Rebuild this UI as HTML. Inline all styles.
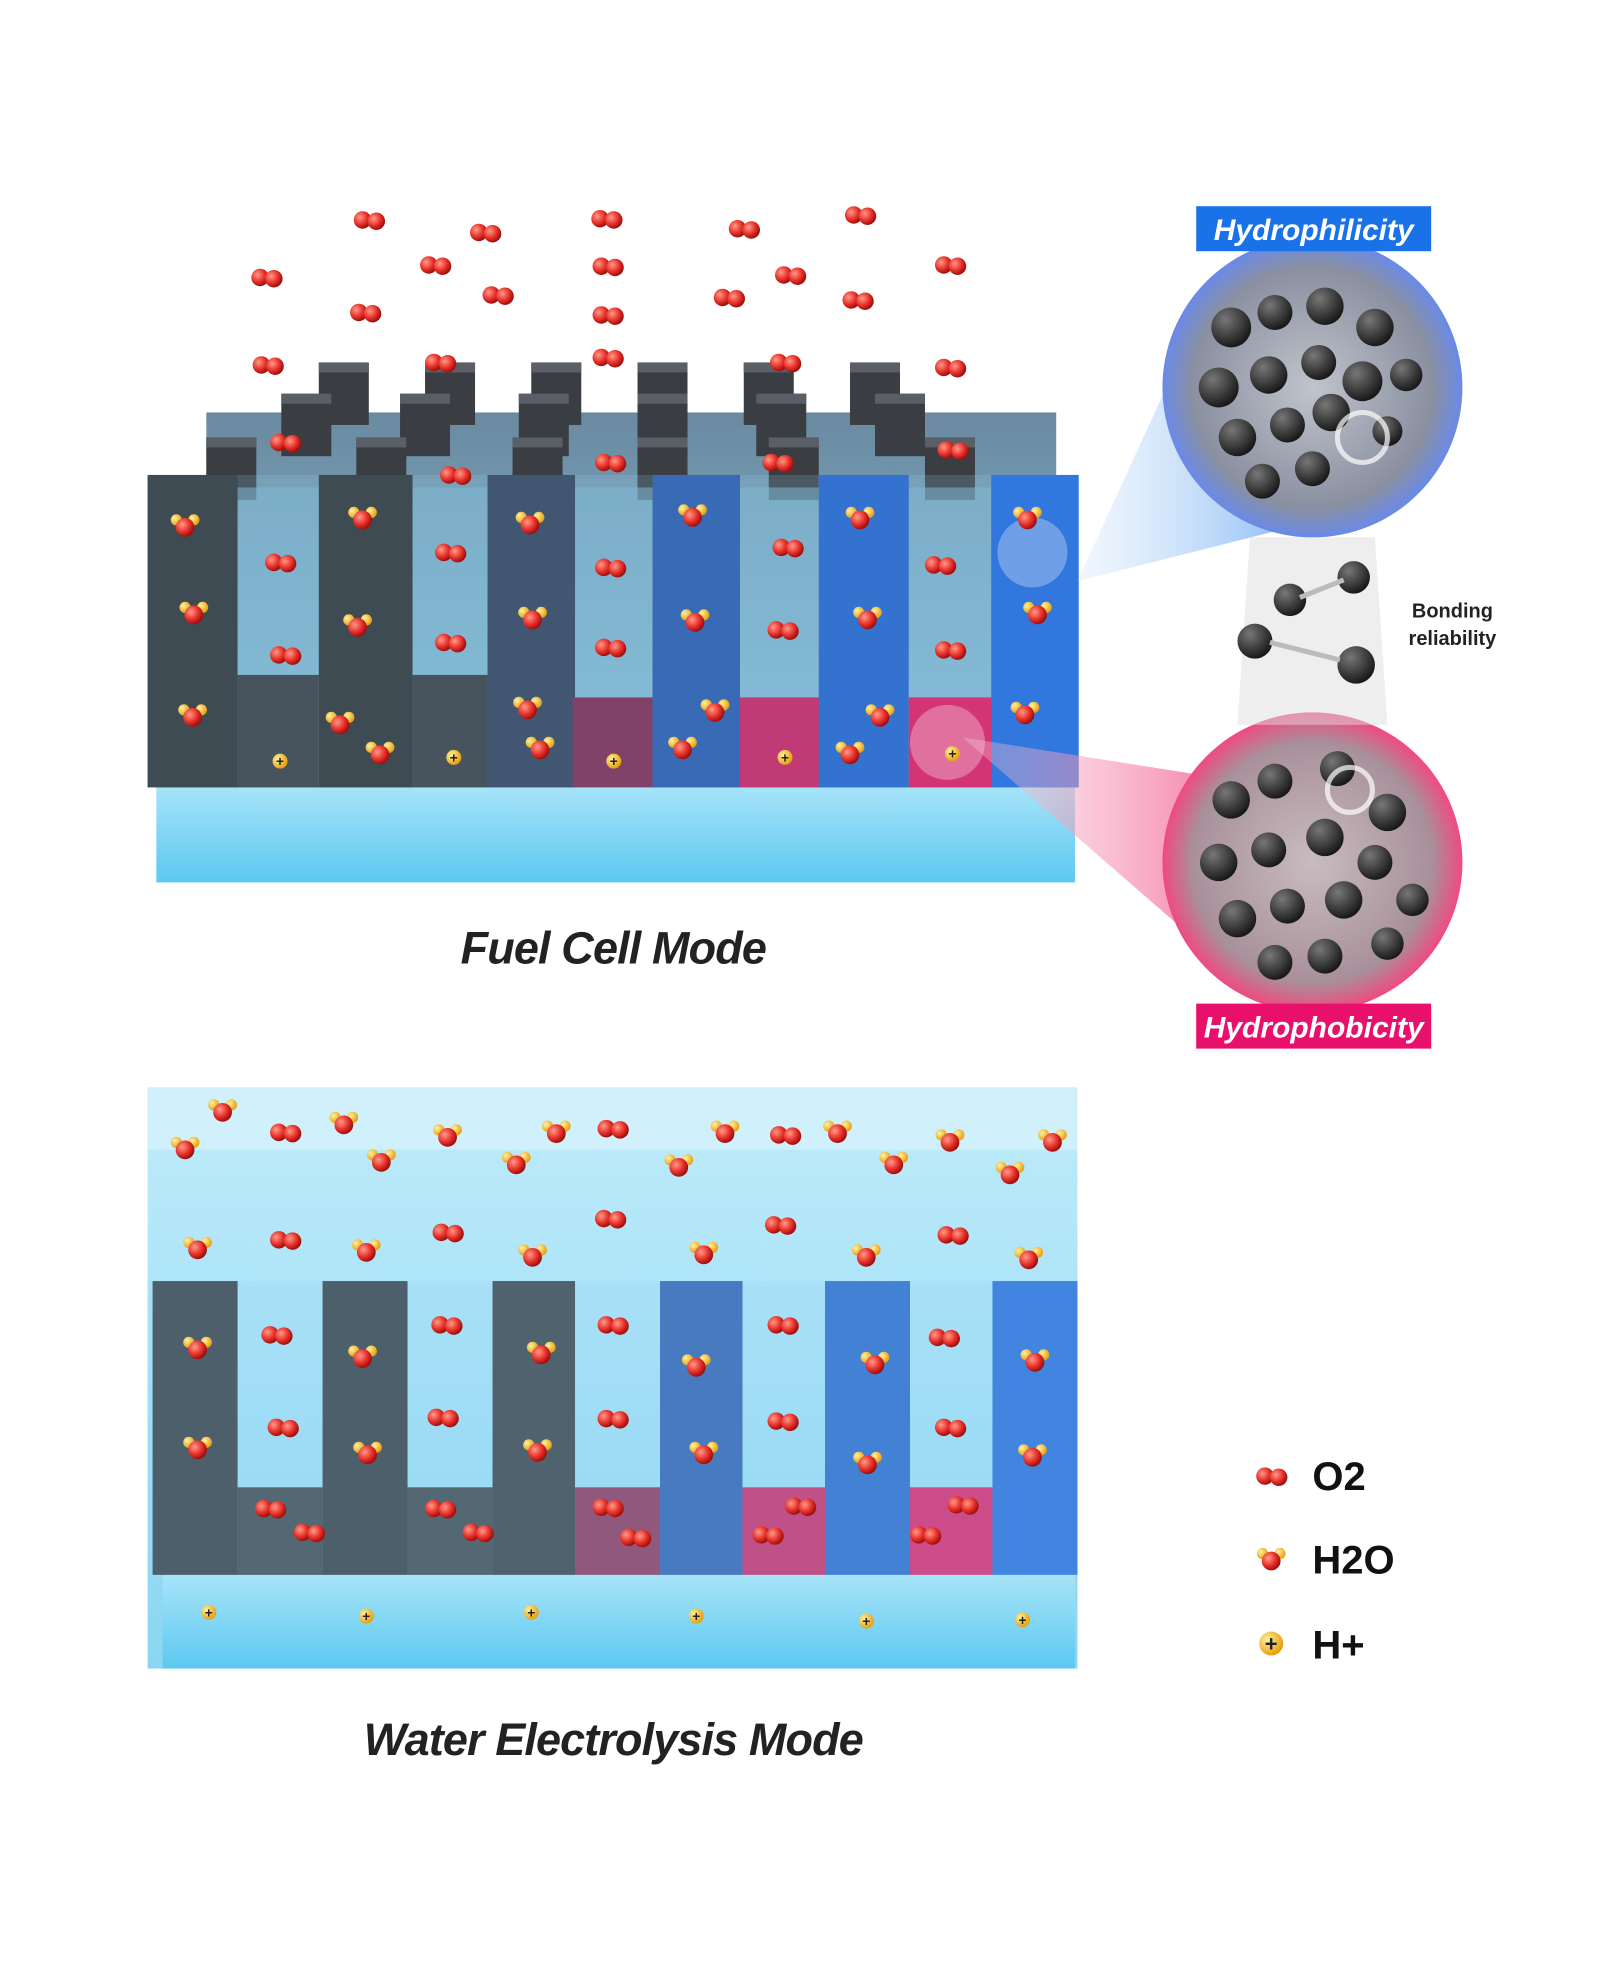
<!DOCTYPE html>
<html><head><meta charset="utf-8"><style>
html,body{margin:0;padding:0;background:#fff;}
svg{display:block;}
text{font-family:"Liberation Sans",sans-serif;}
</style></head><body>
<svg width="1600" height="1966" viewBox="0 0 1280 1573" xmlns="http://www.w3.org/2000/svg">
<defs>
<radialGradient id="red" cx="35%" cy="35%" r="65%"><stop offset="0" stop-color="#ff9a8a"/><stop offset=".6" stop-color="#e8322a"/><stop offset="1" stop-color="#a01010"/></radialGradient>
<radialGradient id="yel" cx="35%" cy="35%" r="65%"><stop offset="0" stop-color="#fff2a0"/><stop offset="1" stop-color="#e8a010"/></radialGradient>
<radialGradient id="ball" cx="35%" cy="30%" r="70%"><stop offset="0" stop-color="#777"/><stop offset="1" stop-color="#1a1a1a"/></radialGradient>
<radialGradient id="cb" cx="50%" cy="50%" r="50%"><stop offset="0" stop-color="#c0c4cc"/><stop offset=".8" stop-color="#8a90a0"/><stop offset="1" stop-color="#6a8ae8"/></radialGradient>
<radialGradient id="cp" cx="50%" cy="50%" r="50%"><stop offset="0" stop-color="#c8bcc0"/><stop offset=".8" stop-color="#a8909a"/><stop offset="1" stop-color="#f04a80"/></radialGradient>
<linearGradient id="base" x1="0" y1="0" x2="0" y2="1"><stop offset="0" stop-color="#a8e4f8"/><stop offset="1" stop-color="#5cc8f0"/></linearGradient>
<linearGradient id="water" x1="0" y1="0" x2="0" y2="1"><stop offset="0" stop-color="#c0ecfa"/><stop offset="1" stop-color="#8ad6f2"/></linearGradient>
<linearGradient id="gap" x1="0" y1="0" x2="0" y2="1"><stop offset="0" stop-color="#6a8aa0"/><stop offset="1" stop-color="#8cc4e0"/></linearGradient>
<linearGradient id="cone1" x1="1" y1="0" x2="0" y2="0"><stop offset="0" stop-color="#6aa8f0" stop-opacity=".8"/><stop offset="1" stop-color="#cfe4fb" stop-opacity=".3"/></linearGradient>
<linearGradient id="cone2" x1="1" y1="0" x2="0" y2="0"><stop offset="0" stop-color="#f04a80" stop-opacity=".8"/><stop offset="1" stop-color="#fbd0de" stop-opacity=".3"/></linearGradient>
<g id="o2"><circle cx="-5" cy="0" r="7" fill="url(#red)"/><circle cx="6" cy="1" r="7" fill="url(#red)"/></g>
<g id="h2o"><circle cx="-7" cy="-4" r="4.5" fill="url(#yel)"/><circle cx="7" cy="-4" r="4.5" fill="url(#yel)"/><circle cx="0" cy="2" r="7.5" fill="url(#red)"/></g>
<g id="hp"><circle r="6" fill="url(#yel)"/><text x="0" y="4" font-size="11" font-weight="bold" text-anchor="middle" fill="#222">+</text></g>
<g id="bk"><rect width="40" height="50" fill="#3a3d42"/><rect width="40" height="8" fill="#5a5e66"/></g>
</defs>

<!-- TOP DIAGRAM -->
<rect x="125" y="628" width="735" height="78" fill="url(#base)"/>
<rect x="165" y="330" width="680" height="300" fill="url(#gap)"/>
<g>
<use href="#bk" x="255" y="290"/><use href="#bk" x="340" y="290"/><use href="#bk" x="425" y="290"/><use href="#bk" x="510" y="290"/><use href="#bk" x="595" y="290"/><use href="#bk" x="680" y="290"/>
<use href="#bk" x="225" y="315"/><use href="#bk" x="320" y="315"/><use href="#bk" x="415" y="315"/><use href="#bk" x="510" y="315"/><use href="#bk" x="605" y="315"/><use href="#bk" x="700" y="315"/>
<use href="#bk" x="165" y="350"/><use href="#bk" x="285" y="350"/><use href="#bk" x="410" y="350"/><use href="#bk" x="510" y="350"/><use href="#bk" x="615" y="350"/><use href="#bk" x="740" y="350"/>
</g>
<rect x="130" y="390" width="725" height="240" fill="#7ab0cc" opacity=".55"/>
<g>
<rect x="118" y="380" width="72" height="250" fill="#2a2c30"/>
<rect x="190" y="540" width="65" height="90" fill="#35383d"/>
<rect x="255" y="380" width="75" height="250" fill="#2a2c30"/>
<rect x="330" y="540" width="60" height="90" fill="#35383d"/>
<rect x="390" y="380" width="70" height="250" fill="#2e3b55"/>
<rect x="458" y="558" width="67" height="72" fill="#7a2248"/>
<rect x="522" y="380" width="70" height="250" fill="#2452a8"/>
<rect x="592" y="558" width="66" height="72" fill="#c8185a"/>
<rect x="655" y="380" width="72" height="250" fill="#1e5cc8"/>
<rect x="727" y="558" width="68" height="72" fill="#e0105a"/>
<rect x="793" y="380" width="70" height="250" fill="#1a62d8"/>
</g>
<rect x="118" y="380" width="745" height="250" fill="#9ad8f4" opacity=".18"/>
<circle cx="826" cy="442" r="28" fill="#fff" opacity=".3"/>
<circle cx="758" cy="594" r="30" fill="#fff" opacity=".3"/>

<g>
<use href="#o2" x="295" y="176"/><use href="#o2" x="388" y="186"/><use href="#o2" x="485" y="175"/><use href="#o2" x="595" y="183"/><use href="#o2" x="688" y="172"/>
<use href="#o2" x="213" y="222"/><use href="#o2" x="348" y="212"/><use href="#o2" x="486" y="213"/><use href="#o2" x="632" y="220"/><use href="#o2" x="760" y="212"/>
<use href="#o2" x="292" y="250"/><use href="#o2" x="398" y="236"/><use href="#o2" x="583" y="238"/><use href="#o2" x="686" y="240"/><use href="#o2" x="486" y="252"/>
<use href="#o2" x="214" y="292"/><use href="#o2" x="352" y="290"/><use href="#o2" x="486" y="286"/><use href="#o2" x="628" y="290"/><use href="#o2" x="760" y="294"/>
<use href="#o2" x="228" y="354"/><use href="#o2" x="364" y="380"/><use href="#o2" x="488" y="370"/><use href="#o2" x="622" y="370"/><use href="#o2" x="762" y="360"/>
<use href="#o2" x="224" y="450"/><use href="#o2" x="360" y="442"/><use href="#o2" x="488" y="454"/><use href="#o2" x="630" y="438"/><use href="#o2" x="752" y="452"/>
<use href="#o2" x="228" y="524"/><use href="#o2" x="360" y="514"/><use href="#o2" x="488" y="518"/><use href="#o2" x="626" y="504"/><use href="#o2" x="760" y="520"/>
<use href="#h2o" x="148" y="420"/><use href="#h2o" x="290" y="414"/><use href="#h2o" x="424" y="418"/><use href="#h2o" x="554" y="412"/><use href="#h2o" x="688" y="414"/><use href="#h2o" x="822" y="414"/>
<use href="#h2o" x="155" y="490"/><use href="#h2o" x="286" y="500"/><use href="#h2o" x="426" y="494"/><use href="#h2o" x="556" y="496"/><use href="#h2o" x="694" y="494"/><use href="#h2o" x="830" y="490"/>
<use href="#h2o" x="154" y="572"/><use href="#h2o" x="272" y="578"/><use href="#h2o" x="304" y="602"/><use href="#h2o" x="422" y="566"/><use href="#h2o" x="432" y="598"/><use href="#h2o" x="546" y="598"/><use href="#h2o" x="572" y="568"/><use href="#h2o" x="680" y="602"/><use href="#h2o" x="704" y="572"/><use href="#h2o" x="820" y="570"/>
<use href="#hp" x="224" y="609"/><use href="#hp" x="363" y="606"/><use href="#hp" x="491" y="609"/><use href="#hp" x="628" y="606"/><use href="#hp" x="762" y="603"/>
</g>

<polygon points="862,465 955,262 1040,420" fill="url(#cone1)"/>
<polygon points="770,590 960,620 1000,790" fill="url(#cone2)"/>
<circle cx="1050" cy="310" r="120" fill="url(#cb)"/>
<circle cx="1050" cy="690" r="120" fill="url(#cp)"/>
<g fill="url(#ball)">
<circle cx="985" cy="262" r="16"/><circle cx="1020" cy="250" r="14"/><circle cx="1060" cy="245" r="15"/><circle cx="1100" cy="262" r="15"/><circle cx="975" cy="310" r="16"/><circle cx="1015" cy="300" r="15"/><circle cx="1055" cy="290" r="14"/><circle cx="1090" cy="305" r="16"/><circle cx="1125" cy="300" r="13"/><circle cx="990" cy="350" r="15"/><circle cx="1030" cy="340" r="14"/><circle cx="1065" cy="330" r="15"/><circle cx="1110" cy="345" r="12"/><circle cx="1010" cy="385" r="14"/><circle cx="1050" cy="375" r="14"/>
<circle cx="985" cy="640" r="15"/><circle cx="1020" cy="625" r="14"/><circle cx="1070" cy="615" r="14"/><circle cx="1110" cy="650" r="15"/><circle cx="975" cy="690" r="15"/><circle cx="1015" cy="680" r="14"/><circle cx="1060" cy="670" r="15"/><circle cx="1100" cy="690" r="14"/><circle cx="1130" cy="720" r="13"/><circle cx="990" cy="735" r="15"/><circle cx="1030" cy="725" r="14"/><circle cx="1075" cy="720" r="15"/><circle cx="1110" cy="755" r="13"/><circle cx="1020" cy="770" r="14"/><circle cx="1060" cy="765" r="14"/>
</g>
<circle cx="1090" cy="350" r="20" fill="none" stroke="#fff" stroke-width="4" opacity=".7"/>
<circle cx="1080" cy="632" r="18" fill="none" stroke="#fff" stroke-width="4" opacity=".7"/>
<polygon points="1000,430 1100,430 1110,580 990,580" fill="#ddd" opacity=".5"/>
<g fill="url(#ball)"><circle cx="1083" cy="462" r="13"/><circle cx="1032" cy="480" r="13"/><circle cx="1004" cy="513" r="14"/><circle cx="1085" cy="532" r="15"/></g>
<g stroke="#bbb" stroke-width="4"><line x1="1040" y1="478" x2="1075" y2="464"/><line x1="1016" y1="514" x2="1072" y2="528"/></g>
<text x="1162" y="494" font-size="16" font-weight="bold" text-anchor="middle" fill="#222">Bonding</text>
<text x="1162" y="516" font-size="16" font-weight="bold" text-anchor="middle" fill="#222">reliability</text>
<rect x="957" y="165" width="188" height="36" fill="#1a72e8"/>
<text x="1051" y="192" font-size="24" font-weight="bold" font-style="italic" text-anchor="middle" fill="#fff">Hydrophilicity</text>
<rect x="957" y="803" width="188" height="36" fill="#e8106a"/>
<text x="1051" y="830" font-size="24" font-weight="bold" font-style="italic" text-anchor="middle" fill="#fff">Hydrophobicity</text>

<text x="491" y="771" font-size="36" font-weight="bold" font-style="italic" text-anchor="middle" fill="#222" textLength="245">Fuel Cell Mode</text>

<!-- BOTTOM DIAGRAM -->
<rect x="118" y="870" width="744" height="465" fill="url(#water)"/>
<rect x="118" y="870" width="744" height="50" fill="#d8f2fc" opacity=".7"/>
<rect x="130" y="1260" width="730" height="75" fill="url(#base)"/>
<g>
<rect x="122" y="1025" width="68" height="235" fill="#2a2c30"/>
<rect x="190" y="1190" width="68" height="70" fill="#35383d"/>
<rect x="258" y="1025" width="68" height="235" fill="#2a2c30"/>
<rect x="326" y="1190" width="68" height="70" fill="#35383d"/>
<rect x="394" y="1025" width="66" height="235" fill="#2e3034"/>
<rect x="460" y="1190" width="68" height="70" fill="#8a2248"/>
<rect x="528" y="1025" width="66" height="235" fill="#2452a8"/>
<rect x="594" y="1190" width="66" height="70" fill="#d0185a"/>
<rect x="660" y="1025" width="68" height="235" fill="#1e5cc8"/>
<rect x="728" y="1190" width="66" height="70" fill="#e0105a"/>
<rect x="794" y="1025" width="68" height="235" fill="#1a62d8"/>
</g>
<rect x="118" y="1025" width="744" height="235" fill="#9ad8f4" opacity=".3"/>
<g>
<use href="#h2o" x="178" y="888"/><use href="#h2o" x="275" y="898"/><use href="#h2o" x="358" y="908"/><use href="#h2o" x="445" y="905"/><use href="#h2o" x="580" y="905"/><use href="#h2o" x="670" y="905"/><use href="#h2o" x="760" y="912"/><use href="#h2o" x="842" y="912"/>
<use href="#h2o" x="148" y="918"/><use href="#h2o" x="305" y="928"/><use href="#h2o" x="413" y="930"/><use href="#h2o" x="543" y="932"/><use href="#h2o" x="715" y="930"/><use href="#h2o" x="808" y="938"/>
<use href="#o2" x="228" y="906"/><use href="#o2" x="490" y="903"/><use href="#o2" x="628" y="908"/>
<use href="#h2o" x="158" y="998"/><use href="#h2o" x="293" y="1000"/><use href="#h2o" x="426" y="1004"/><use href="#h2o" x="563" y="1002"/><use href="#h2o" x="693" y="1004"/><use href="#h2o" x="823" y="1006"/>
<use href="#o2" x="228" y="992"/><use href="#o2" x="358" y="986"/><use href="#o2" x="488" y="975"/><use href="#o2" x="624" y="980"/><use href="#o2" x="762" y="988"/>
<use href="#h2o" x="158" y="1078"/><use href="#h2o" x="290" y="1085"/><use href="#h2o" x="433" y="1082"/><use href="#h2o" x="557" y="1092"/><use href="#h2o" x="700" y="1090"/><use href="#h2o" x="828" y="1088"/>
<use href="#o2" x="221" y="1068"/><use href="#o2" x="357" y="1060"/><use href="#o2" x="490" y="1060"/><use href="#o2" x="626" y="1060"/><use href="#o2" x="755" y="1070"/>
<use href="#h2o" x="158" y="1158"/><use href="#h2o" x="294" y="1162"/><use href="#h2o" x="430" y="1160"/><use href="#h2o" x="563" y="1162"/><use href="#h2o" x="694" y="1170"/><use href="#h2o" x="826" y="1164"/>
<use href="#o2" x="226" y="1142"/><use href="#o2" x="354" y="1134"/><use href="#o2" x="490" y="1135"/><use href="#o2" x="626" y="1137"/><use href="#o2" x="760" y="1142"/>
<use href="#o2" x="216" y="1207"/><use href="#o2" x="247" y="1226"/><use href="#o2" x="352" y="1207"/><use href="#o2" x="382" y="1226"/><use href="#o2" x="486" y="1206"/><use href="#o2" x="508" y="1230"/><use href="#o2" x="614" y="1228"/><use href="#o2" x="640" y="1205"/><use href="#o2" x="740" y="1228"/><use href="#o2" x="770" y="1204"/>
<use href="#hp" x="167" y="1290"/><use href="#hp" x="293" y="1293"/><use href="#hp" x="425" y="1290"/><use href="#hp" x="557" y="1293"/><use href="#hp" x="693" y="1297"/><use href="#hp" x="818" y="1296"/>
</g>
<text x="491" y="1404" font-size="36" font-weight="bold" font-style="italic" text-anchor="middle" fill="#222" textLength="400">Water Electrolysis Mode</text>

<use href="#o2" x="1017" y="1181"/>
<text x="1050" y="1192" font-size="32" font-weight="bold" fill="#111">O2</text>
<use href="#h2o" x="1017" y="1247"/>
<text x="1050" y="1259" font-size="32" font-weight="bold" fill="#111">H2O</text>
<g transform="translate(1017,1315) scale(1.6)"><use href="#hp"/></g>
<text x="1050" y="1327" font-size="32" font-weight="bold" fill="#111">H+</text>
</svg>
</body></html>
